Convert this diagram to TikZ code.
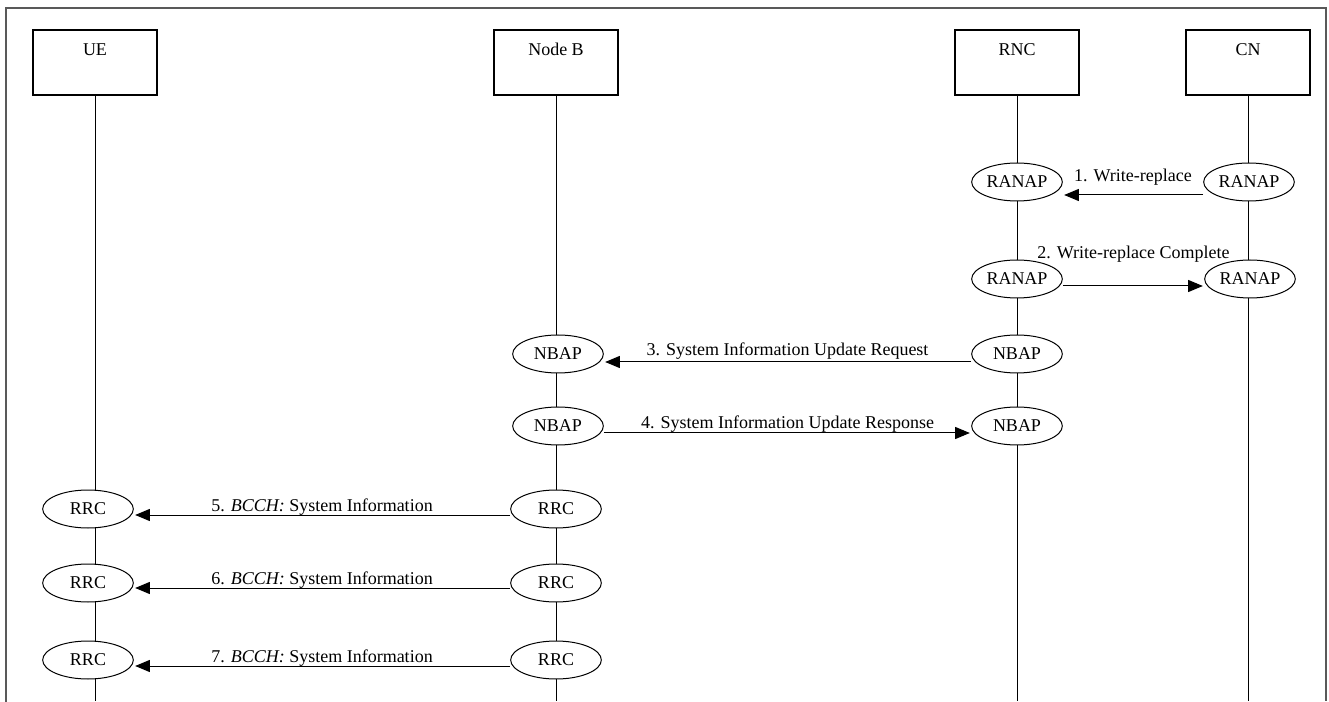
\documentclass[tikz,border=0pt]{standalone}
\usepackage{fontspec}
\setmainfont{Liberation Serif}
\usetikzlibrary{arrows.meta,shapes.geometric,calc}

\begin{document}
\begin{tikzpicture}[x=0.75pt,y=-0.75pt,>={Triangle[length=11pt,width=9pt]},shorten >=1pt,
    every node/.style={font=\fontsize{13.5}{16}\selectfont},
    entity/.style={draw,line width=0.9pt,minimum width=93pt,minimum height=48.75pt},
    proto/.style={draw,ellipse,fill=white,inner sep=0pt,line width=0.75pt,minimum width=68pt,minimum height=28.5pt},
    msg/.style={->,line width=0.75pt},
    lbl/.style={midway,anchor=center}]
  \useasboundingbox (0,0) rectangle (1329,702);
  \draw[black!65,line width=0.8pt] (6,702) -- (6,8) -- (1326,8) -- (1326,702);
  \coordinate (bot) at (0,702);

  % entities
  \node[entity,label={[anchor=center,yshift=-15pt]north:UE}]     (ue)  at (95,62.5)   {};
  \node[entity,label={[anchor=center,yshift=-15pt]north:Node B}] (nb)  at (556,62.5)  {};
  \node[entity,label={[anchor=center,yshift=-15pt]north:RNC}]    (rnc) at (1017,62.5) {};
  \node[entity,label={[anchor=center,yshift=-15pt]north:CN}]     (cn)  at (1248,62.5) {};

  % lifelines
  \draw[line width=0.75pt] (ue.south)  -- (ue.south |- bot);
  \draw[line width=0.75pt] (nb.south)  -- (nb.south |- bot);
  \draw[line width=0.75pt] (rnc.south) -- (rnc.south |- bot);
  \draw[line width=0.75pt] (cn.south)  -- (cn.south |- bot);

  % protocol instances
  \node[proto] (rnc1) at (1017,182) {RANAP};
  \node[proto] (cn1)  at (1249,182) {RANAP};
  \node[proto] (rnc2) at (1017,279) {RANAP};
  \node[proto] (cn2)  at (1250,279) {RANAP};
  \node[proto] (nb3)  at (558,354)  {NBAP};
  \node[proto] (rnc3) at (1017,354) {NBAP};
  \node[proto] (nb4)  at (558,426)  {NBAP};
  \node[proto] (rnc4) at (1017,426) {NBAP};
  \node[proto] (ue5)  at (88,509)   {RRC};
  \node[proto] (nb5)  at (556,509)  {RRC};
  \node[proto] (ue6)  at (88,583)   {RRC};
  \node[proto] (nb6)  at (556,583)  {RRC};
  \node[proto] (ue7)  at (88,660)   {RRC};
  \node[proto] (nb7)  at (556,660)  {RRC};

  % messages
  \draw[msg] ($(cn1.west)+(0,13)$)  -- ($(rnc1.east)+(0,13)$) node[lbl,yshift=13.5pt] {1. Write-replace};
  \draw[msg] ($(rnc2.east)+(0,7)$)  -- ($(cn2.west)+(0,7)$)   node[lbl,yshift=24pt]   {2. Write-replace Complete};
  \draw[msg] ($(rnc3.west)+(0,8)$)  -- ($(nb3.east)+(0,8)$)   node[lbl,yshift=8.25pt] {3. System Information Update Request};
  \draw[msg] ($(nb4.east)+(0,7)$)   -- ($(rnc4.west)+(0,7)$)  node[lbl,yshift=6.75pt] {4. System Information Update Response};
  \draw[msg] ($(nb5.west)+(0,6)$)   -- ($(ue5.east)+(0,6)$)   node[lbl,yshift=6pt]    {5. \textit{BCCH:} System Information};
  \draw[msg] ($(nb6.west)+(0,5)$)   -- ($(ue6.east)+(0,5)$)   node[lbl,yshift=6pt]    {6. \textit{BCCH:} System Information};
  \draw[msg] ($(nb7.west)+(0,6)$)   -- ($(ue7.east)+(0,6)$)   node[lbl,yshift=6pt]    {7. \textit{BCCH:} System Information};
\end{tikzpicture}
\end{document}
